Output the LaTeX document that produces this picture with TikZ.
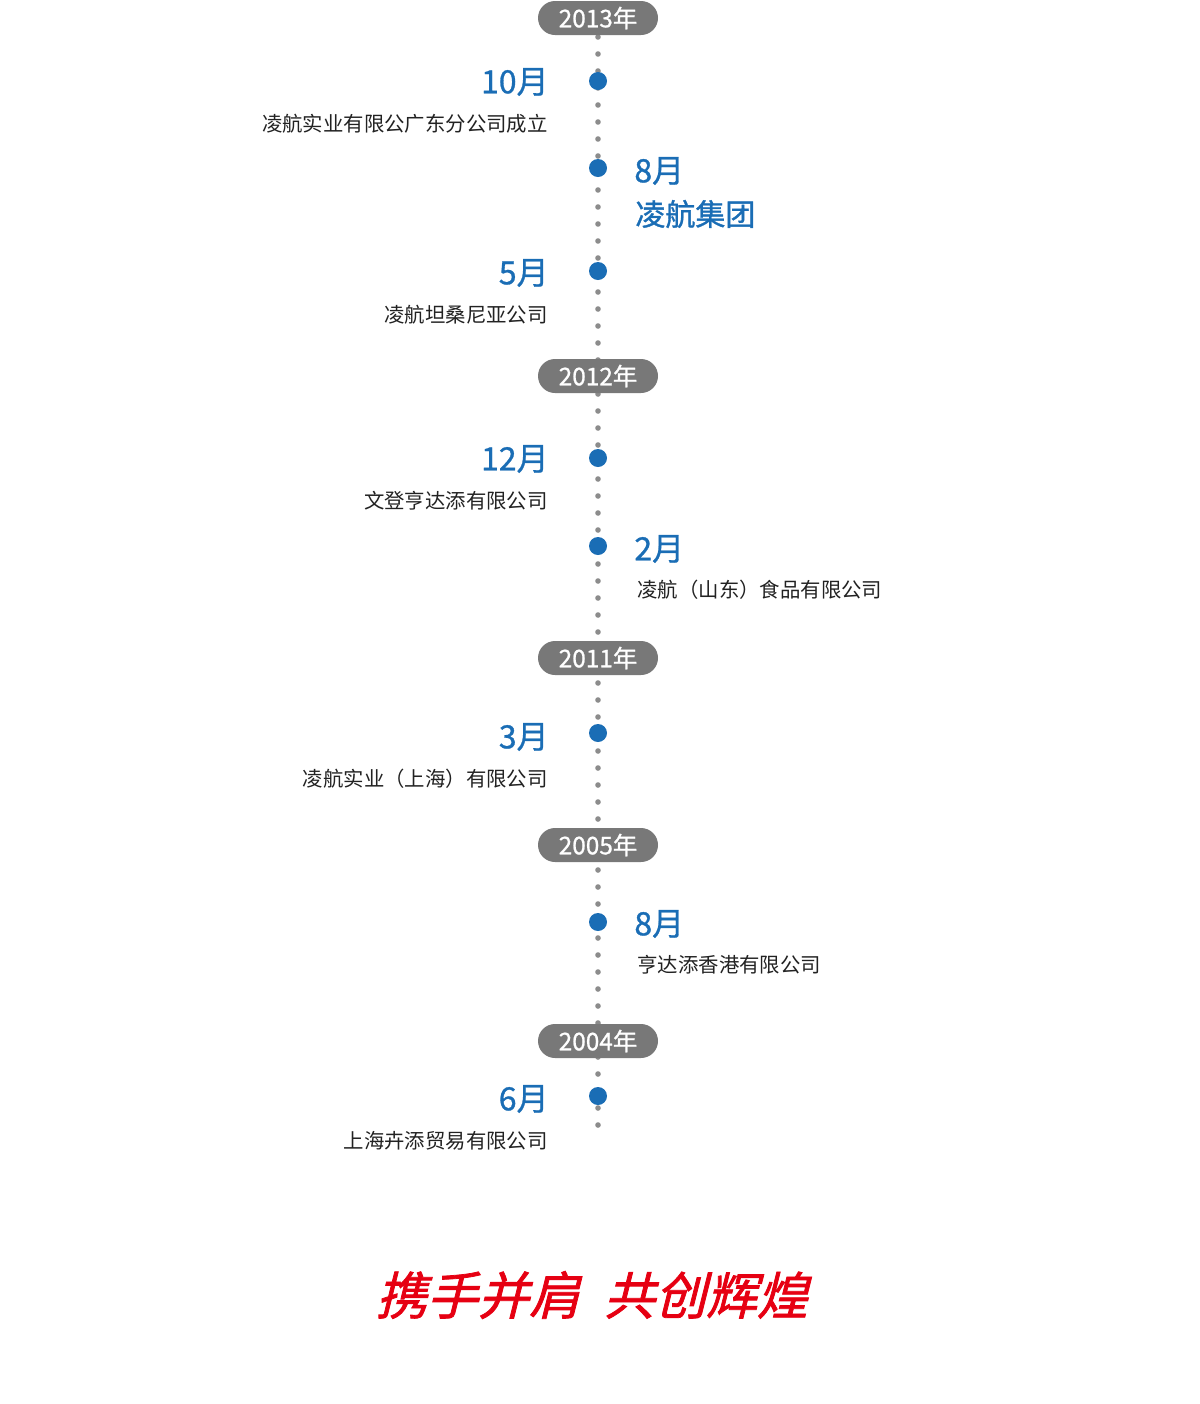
\documentclass[tikz,border=0pt]{standalone}
\usepackage{fontspec}
\setmainfont{Noto Sans CJK SC}
\newfontfamily\slogan[FakeSlant=0.25,FakeBold=1.5]{Noto Sans CJK SC}
\newfontfamily\monthfont[FakeBold=0.9]{Noto Sans CJK SC}
\newfontfamily\groupfont[FakeBold=1.2]{Noto Sans CJK SC}
\definecolor{evblue}{HTML}{1A6DB5}
\definecolor{pillgray}{HTML}{787878}
\definecolor{dotgray}{HTML}{8C8C8C}
\definecolor{textgray}{HTML}{222222}
\definecolor{slogred}{HTML}{E60012}

\tikzset{
  yearpill/.style={fill=pillgray, text=white, rounded corners=8.5pt, minimum width=60pt,
    minimum height=17pt, inner sep=0pt, font=\fontsize{12.2}{14}\monthfont},
  evdot/.style={circle, fill=evblue, minimum size=9pt, inner sep=0pt},
  month/.style={text=evblue, inner sep=0pt, font=\fontsize{16}{18}\monthfont},
  desc/.style={text=textgray, inner sep=0pt, font=\fontsize{10.2}{12}\selectfont},
  bigdesc/.style={text=evblue, inner sep=0pt, font=\fontsize{15}{17}\groupfont}
}

\begin{document}
\begin{tikzpicture}[x=0.5pt,y=-0.5pt]
        \useasboundingbox (0,0) rectangle (1200,1404);
        % Dotted time line.
        \foreach \y in {37,54,...,1137}
          \fill [dotgray] (598,\y) circle (1.4pt);

        % Years.
        \node (y2013) [yearpill] at (598,18) {2013年};
        \node (y2012) [yearpill] at (598,376) {2012年};
        \node (y2011) [yearpill] at (598,658) {2011年};
        \node (y2005) [yearpill] at (598,845) {2005年};
        \node (y2004) [yearpill] at (598,1041) {2004年};

        % Events.
        \node (e1) [evdot] at (598,81) {};
        \node (e2) [evdot] at (598,168) {};
        \node (e3) [evdot] at (598,271) {};
        \node (e4) [evdot] at (598,458) {};
        \node (e5) [evdot] at (598,546) {};
        \node (e6) [evdot] at (598,733) {};
        \node (e7) [evdot] at (598,922) {};
        \node (e8) [evdot] at (598,1096) {};

        \node (m1) [month, anchor=east] at (549,82) {10月};
        \node (d1) [desc, anchor=east] at (548,124) {凌航实业有限公广东分公司成立};
        \node (m2) [month, anchor=west] at (634,171) {8月};
        \node (d2) [bigdesc, anchor=west] at (635,214) {凌航集团};
        \node (m3) [month, anchor=east] at (549,273) {5月};
        \node (d3) [desc, anchor=east] at (548,315) {凌航坦桑尼亚公司};
        \node (m4) [month, anchor=east] at (549,459) {12月};
        \node (d4) [desc, anchor=east] at (548,501) {文登亨达添有限公司};
        \node (m5) [month, anchor=west] at (634,549) {2月};
        \node (d5) [desc, anchor=west] at (637,590) {凌航（山东）食品有限公司};
        \node (m6) [month, anchor=east] at (549,737) {3月};
        \node (d6) [desc, anchor=east] at (548,779) {凌航实业（上海）有限公司};
        \node (m7) [month, anchor=west] at (634,924) {8月};
        \node (d7) [desc, anchor=west] at (637,965) {亨达添香港有限公司};
        \node (m8) [month, anchor=east] at (549,1099) {6月};
        \node (d8) [desc, anchor=east] at (548,1141) {上海卉添贸易有限公司};

        % Slogan.
        \node (slog) [text=slogred, font=\fontsize{25.5}{28}\slogan] at (592,1295) {携手并肩\hspace{12pt}共创辉煌};
\end{tikzpicture}
\end{document}
